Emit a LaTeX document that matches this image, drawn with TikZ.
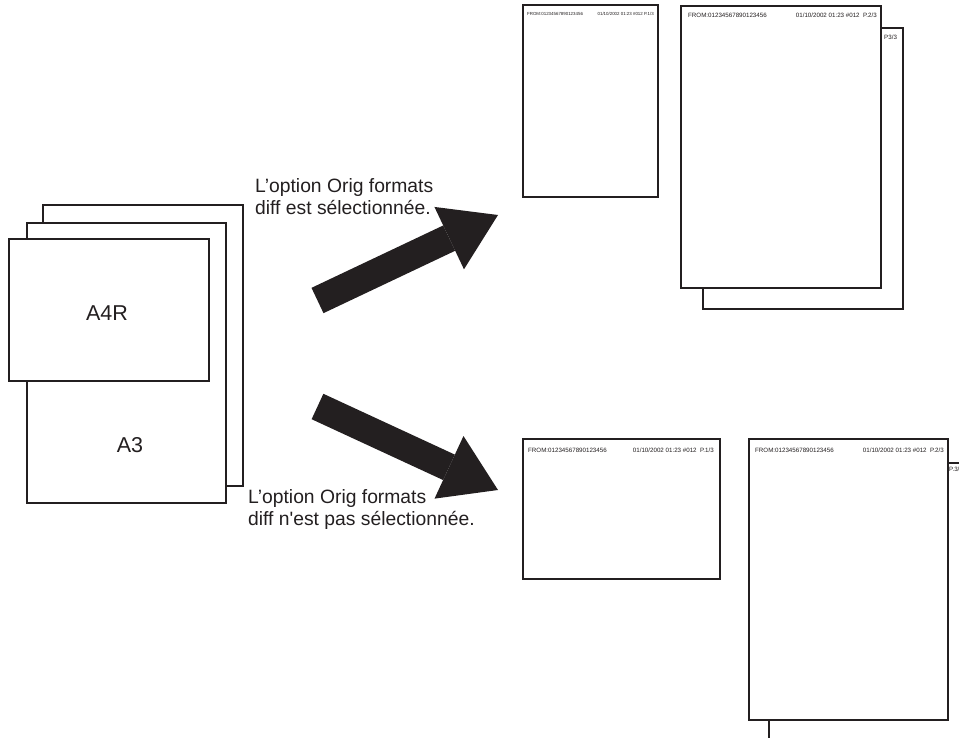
\documentclass[tikz,border=0pt]{standalone}
\usepackage{fontspec}
\setmainfont{Liberation Sans}[Ligatures=TeXOff]
\usetikzlibrary{arrows.meta}
\definecolor{ink}{HTML}{231F20}
\begin{document}
\begin{tikzpicture}[x=1pt,y=-1pt,
  page/.style={draw=ink, fill=white, line width=2.7pt, inner sep=0pt, outer sep=0pt},
  hdr/.style={font=\fontsize{6.2}{7}\selectfont, inner sep=0pt, text=ink},
  shdr/.style={font=\fontsize{4.4}{5}\selectfont, inner sep=0pt, text=ink},
  lbl/.style={font=\fontsize{19.3}{22}\selectfont, align=left, inner sep=0pt, anchor=north west, text=ink},
  big/.style={font=\fontsize{21.5}{24}\selectfont, inner sep=0pt, text=ink},
  fat/.style={draw=ink, line width=28pt, -{Triangle[width=69pt,length=54pt,line width=0pt]}}
]
\useasboundingbox (0,0) rectangle (959,738);
\clip (0,0) rectangle (959,738);

% left stack
\node[page, minimum width=200pt, minimum height=281pt] (s1) at (143,345.5) {};
\node[page, minimum width=199pt, minimum height=280pt] (s2) at (126.5,363) {};
\node[page, minimum width=200pt, minimum height=142pt] (s3) at (109,310) {};
\node[big] (a4r) at (107,313) {A4R};
\node[big] (a3) at (130,445) {A3};

% top-right result
\node[page, minimum width=135pt, minimum height=192pt] (t0) at (590.5,101) {};
\node[page, minimum width=200pt, minimum height=281pt] (t2) at (803,168.5) {};
\node[page, minimum width=200pt, minimum height=282pt] (t1) at (781,147) {};
\node[shdr, anchor=west] (t0l) at (527,14) {FROM:01234567890123456};
\node[shdr, anchor=east] (t0r) at (654,14) {01/10/2002 01:23 \#012 P.1/3};
\node[hdr, anchor=west] (t1l) at (688,15) {FROM:01234567890123456};
\node[hdr, anchor=east] (t1r) at (877,15) {01/10/2002 01:23 \#012\ \ P.2/3};
\node[hdr, anchor=west] (t2r) at (884,37) {P3/3};

% bottom-right result
\node[page, minimum width=197pt, minimum height=140pt] (b0) at (621.5,509) {};
\node[page, minimum width=200pt, minimum height=282pt] (b2) at (869,604) {};
\node[page, minimum width=199pt, minimum height=281pt] (b1) at (848.5,579.5) {};
\node[hdr, anchor=west] (b0l) at (528,450) {FROM:01234567890123456};
\node[hdr, anchor=east] (b0r) at (714,450) {01/10/2002 01:23 \#012\ \ P.1/3};
\node[hdr, anchor=west] (b1l) at (755,450.5) {FROM:01234567890123456};
\node[hdr, anchor=east] (b1r) at (944,450.5) {01/10/2002 01:23 \#012\ \ P.2/3};
\node[hdr, anchor=west] (b2r) at (949,469) {P.3/3};

% arrows
\coordinate (u0) at (317.5,300.5);
\coordinate (u1) at (498,215);
\coordinate (d0) at (317.5,406.5);
\coordinate (d1) at (498,490);
\draw[fat] (u0) -- (u1);
\draw[fat] (d0) -- (d1);

% labels
\node[lbl] (la) at (255,178) {L’option Orig formats\\diff est sélectionnée.};
\node[lbl] (lb) at (248,489) {L’option Orig formats\\diff n'est pas sélectionnée.};
\end{tikzpicture}
\end{document}
